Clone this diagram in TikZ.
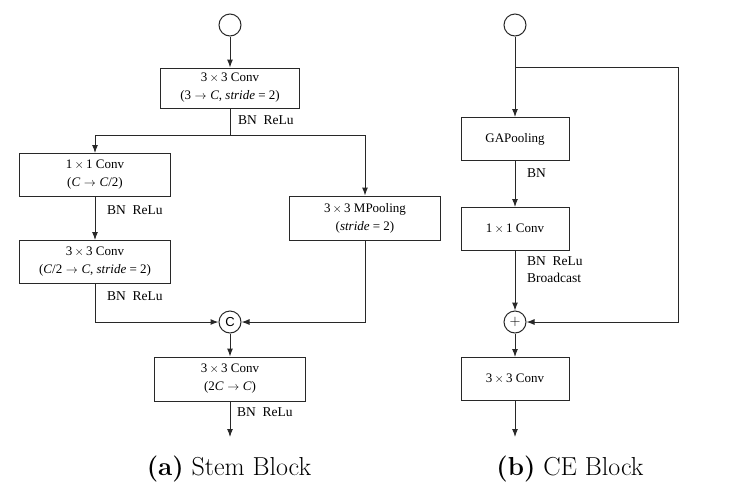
\documentclass[tikz,border=0pt]{standalone}
\usepackage{fontspec}
\newfontfamily\timesfont{Liberation Serif}
\newfontfamily\arialfont{Liberation Sans}
\usetikzlibrary{positioning, arrows.meta}
\definecolor{lnGray}{RGB}{40,40,40}
\newcommand{\tms}{\,$\times$\,}
\newcommand{\tto}{\;$\rightarrow$\;}

\begin{document}
\begin{tikzpicture}[x=1pt, y=-1pt,
  blk/.style={draw=lnGray, line width=1pt, minimum width=151pt, minimum height=43pt, align=center, inner sep=0pt, font=\timesfont\fontsize{13}{18}\selectfont},
  dot/.style={draw=lnGray, line width=1pt, circle, minimum size=22pt, inner sep=0pt, font=\fontsize{15}{15}\selectfont},
  note/.style={anchor=west, align=left, inner sep=0pt, font=\timesfont\fontsize{13.5}{17}\selectfont},
  flow/.style={draw=lnGray, line width=1pt, -{Latex[length=8pt,width=6pt]}},
  wire/.style={draw=lnGray, line width=1pt},
  subcap/.style={inner sep=0pt, font=\fontsize{26}{30}\selectfont}
]
  \useasboundingbox (0,0) rectangle (729,499);

  % (a) stem block
  \node[dot] (inA) at (230,25) {};
  \node[blk, minimum width=139pt, minimum height=40pt] (conv0) at (230,88) {3\tms3 Conv\\(3\tto\textit{C}, \textit{stride} = 2)};
  \coordinate (splitA) at (230,135);
  \node[blk] (conv1) at (95,175) {1\tms1 Conv\\(\textit{C}\tto\textit{C}/2)};
  \node[blk] (conv2) at (95,262) {3\tms3 Conv\\(\textit{C}/2\tto\textit{C}, \textit{stride} = 2)};
  \node[blk, minimum height=44pt] (mpool) at (365,218) {3\tms3 MPooling\\(\textit{stride} = 2)};
  \node[dot] (cat) at (230,322) {\arialfont\fontsize{13}{13}\selectfont C};
  \node[blk, minimum height=44pt] (conv3) at (230,379) {3\tms3 Conv\\(2\textit{C}\tto\textit{C})};
  \coordinate (outA) at (230,437);

  \node[note] (lbA0) at (238,120) {BN\ \ ReLu};
  \node[note] (lbA1) at (107,210) {BN\ \ ReLu};
  \node[note] (lbA2) at (107,296) {BN\ \ ReLu};
  \node[note] (lbA3) at (237,412) {BN\ \ ReLu};

  \draw[flow] (inA) -- (conv0);
  \draw[wire] (conv0) -- (splitA);
  \draw[flow] (splitA) -| (conv1);
  \draw[flow] (splitA) -| (mpool);
  \draw[flow] (conv1) -- (conv2);
  \draw[flow] (conv2) |- (cat);
  \draw[flow] (mpool) |- (cat);
  \draw[flow] (cat) -- (conv3);
  \draw[flow] (conv3) -- (outA);

  % (b) CE block
  \node[dot] (inB) at (515,25) {};
  \coordinate (splitB) at (515,67);
  \coordinate (skipB) at (678,67);
  \node[blk, minimum width=108pt] (gap) at (515,139) {GAPooling};
  \node[blk, minimum width=108pt] (conv4) at (515,229) {1\tms1 Conv};
  \node[dot] (add) at (515,322) {$+$};
  \node[blk, minimum width=108pt] (conv5) at (515,379) {3\tms3 Conv};
  \coordinate (outB) at (515,437);

  \node[note] (lbB0) at (527,173) {BN};
  \node[note] (lbB1) at (527,270) {BN\ \ ReLu\\Broadcast};

  \draw[flow] (inB) -- (gap);
  \draw[flow] (splitB) -- (skipB) |- (add);
  \draw[flow] (gap) -- (conv4);
  \draw[flow] (conv4) -- (add);
  \draw[flow] (add) -- (conv5);
  \draw[flow] (conv5) -- (outB);

  \node[subcap] (capA) at (229,469) {\textbf{(a)} Stem Block};
  \node[subcap] (capB) at (570,469) {\textbf{(b)} CE Block};
\end{tikzpicture}
\end{document}
